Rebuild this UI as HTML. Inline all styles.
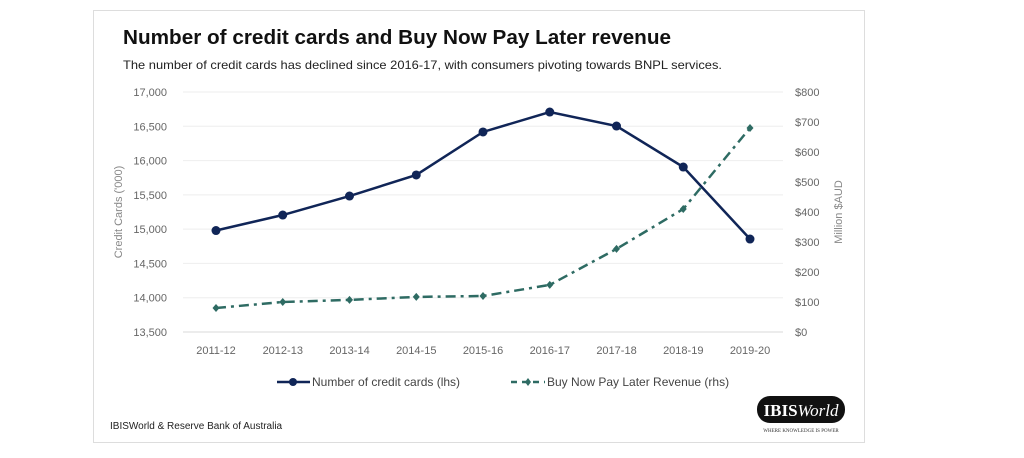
<!DOCTYPE html>
<html><head><meta charset="utf-8"><style>
body{margin:0;width:1024px;height:458px;background:#fff;font-family:"Liberation Sans",sans-serif;overflow:hidden}
.card{position:absolute;left:93px;top:10px;width:772px;height:433px;border:1px solid #ddd;box-sizing:border-box}
</style></head><body>
<div class="card"></div>
<svg width="1024" height="458" style="position:absolute;left:0;top:0">
<text x="123" y="44" font-size="20" font-weight="bold" fill="#111" textLength="548" lengthAdjust="spacingAndGlyphs">Number of credit cards and Buy Now Pay Later revenue</text>
<text x="123" y="69" font-size="12" fill="#222" textLength="599" lengthAdjust="spacingAndGlyphs">The number of credit cards has declined since 2016-17, with consumers pivoting towards BNPL services.</text>
<g id="grid"></g><g id="axes"></g><g id="marks"></g>
<text transform="translate(122,212) rotate(-90)" text-anchor="middle" font-size="11" fill="#888">Credit Cards ('000)</text>
<text transform="translate(842,212) rotate(-90)" text-anchor="middle" font-size="11" fill="#888">Million $AUD</text>
<g>
<g>
<line x1="277" y1="382" x2="310" y2="382" stroke="#102557" stroke-width="2.5"/><circle cx="293" cy="382" r="4" fill="#102557"/>
<text x="312" y="386" font-size="12" fill="#444">Number of credit cards (lhs)</text></g>
<g>
<line x1="511" y1="382" x2="545" y2="382" stroke="#2e6b63" stroke-width="2.5" stroke-dasharray="6,5"/><path d="M528,378 L531,382 L528,386 L525,382Z" fill="#2e6b63"/>
<text x="547" y="386" font-size="12" fill="#444">Buy Now Pay Later Revenue (rhs)</text></g>
</g>
<text x="110" y="429" font-size="10" fill="#222">IBISWorld &amp; Reserve Bank of Australia</text>
<g>
<rect x="757" y="396" width="88" height="27" rx="13" fill="#111"/>
<text x="801" y="416" text-anchor="middle" font-family="Liberation Serif,serif" font-size="17" font-weight="bold" fill="#fff">IBIS<tspan font-style="italic" font-weight="normal">World</tspan></text>
<text x="801" y="432" text-anchor="middle" font-family="Liberation Serif,serif" font-size="5" fill="#333">WHERE KNOWLEDGE IS POWER</text>
</g>
</svg>
<script>
const categories=["2011-12","2012-13","2013-14","2014-15","2015-16","2016-17","2017-18","2018-19","2019-20"];
const cards=[14980,15206,15483,15790,16417,16708,16504,15906,14856];
const bnpl=[80,100,107,117,120,157,277,410,680];
const leftTicks=[13500,14000,14500,15000,15500,16000,16500,17000];
const rightTicks=[0,100,200,300,400,500,600,700,800];
const NS="http://www.w3.org/2000/svg";
const x=i=>216+i*66.75, yl=v=>332-(v-13500)/3500*240, yr=v=>332-v/800*240;
function mk(t,a,p){const e=document.createElementNS(NS,t);for(const k in a)e.setAttribute(k,a[k]);document.getElementById(p).appendChild(e);return e;}
leftTicks.forEach((v,i)=>{
 const g=mk('line',{x1:183,x2:783,y1:yl(v),y2:yl(v),stroke:i===0?'#d9d9d9':'#eeeeee','stroke-width':1},'grid');
 
 
 const t=mk('text',{x:167,y:yl(v)+4,'text-anchor':'end','font-size':11,fill:'#666'},'axes');t.textContent=v.toLocaleString('en-US');
 
 
});
rightTicks.forEach(v=>{
 const t=mk('text',{x:795,y:yr(v)+4,'font-size':11,fill:'#666'},'axes');t.textContent='$'+v;
 
 
});
categories.forEach((c,i)=>{
 const t=mk('text',{x:x(i),y:354,'text-anchor':'middle','font-size':11,fill:'#666'},'axes');t.textContent=c;
 
 
});
const l1=mk('polyline',{points:cards.map((v,i)=>x(i)+','+yl(v)).join(' '),fill:'none',stroke:'#102557','stroke-width':2.5},'marks');


const l2=mk('polyline',{points:bnpl.map((v,i)=>x(i)+','+yr(v)).join(' '),fill:'none',stroke:'#2e6b63','stroke-width':2.5,'stroke-dasharray':'10,5,3,5'},'marks');


cards.forEach((v,i)=>{const c=mk('circle',{cx:x(i),cy:yl(v),r:4.5,fill:'#102557'},'marks');
 
 });
bnpl.forEach((v,i)=>{const X=x(i),Y=yr(v);const d=mk('path',{d:`M${X},${Y-4}L${X+3.5},${Y}L${X},${Y+4}L${X-3.5},${Y}Z`,fill:'#2e6b63'},'marks');
 
 });
</script>
</body></html>
